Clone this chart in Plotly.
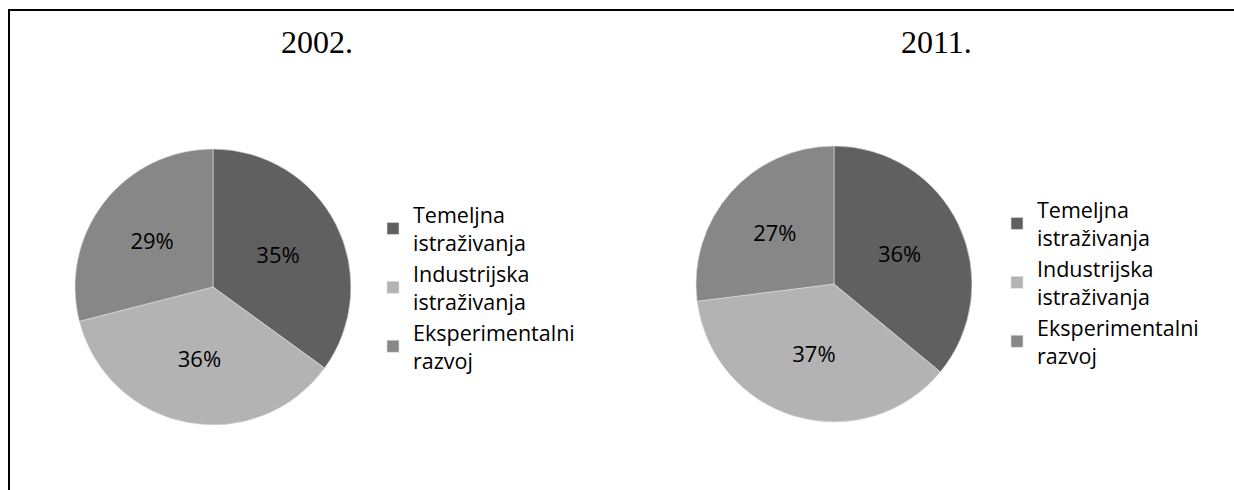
import plotly.graph_objects as go

labels = ["Temeljna<br>istraživanja", "Industrijska<br>istraživanja", "Eksperimentalni<br>razvoj"]
values_2002 = [35, 36, 29]
values_2011 = [36, 37, 27]
titles = ["2002.", "2011."]
colors = ["#606060", "#b3b3b3", "#878787"]

W, H = 1234, 490
FONT = "Open Sans"

# second legend needs distinct keys so both pies get their own legend entries
labels_2011 = [l + "\u200b" for l in labels]

fig = go.Figure()
fig.add_trace(go.Pie(
    labels=labels, values=values_2002, sort=False, direction="clockwise", rotation=0,
    marker=dict(colors=colors, line=dict(color="#e0e0e0", width=0.6)),
    texttemplate="%{percent:.0%}", textposition="inside", insidetextorientation="horizontal",
    textfont=dict(family=FONT, size=22, color="black"),
    domain=dict(x=[75 / W, 351 / W], y=[(H - 425) / H, (H - 149) / H]),
    legend="legend", hoverinfo="label+percent",
))
fig.add_trace(go.Pie(
    labels=labels_2011, values=values_2011, sort=False, direction="clockwise", rotation=0,
    marker=dict(colors=colors, line=dict(color="#e0e0e0", width=0.6)),
    texttemplate="%{percent:.0%}", textposition="inside", insidetextorientation="horizontal",
    textfont=dict(family=FONT, size=22, color="black"),
    domain=dict(x=[696 / W, 972 / W], y=[(H - 422) / H, (H - 146) / H]),
    legend="legend2", hoverinfo="label+percent",
))

legend_common = dict(font=dict(family=FONT, size=21.5, color="black"),
                     bgcolor="rgba(0,0,0,0)", xanchor="left", yanchor="top",
                     traceorder="normal", itemclick=False, itemdoubleclick=False)

fig.update_layout(
    width=W, height=H,
    margin=dict(l=0, r=0, t=0, b=0),
    paper_bgcolor="white", plot_bgcolor="white",
    showlegend=True,
    legend=dict(x=373 / W, y=(H - 194) / H, **legend_common),
    legend2=dict(x=997 / W, y=(H - 189) / H, **legend_common),
    annotations=[
        dict(text=titles[0], x=317 / W, y=(H - 62) / H, xref="paper", yref="paper",
             xanchor="center", yanchor="bottom", showarrow=False,
             font=dict(family="Liberation Serif", size=32, color="black")),
        dict(text=titles[1], x=936 / W, y=(H - 62) / H, xref="paper", yref="paper",
             xanchor="center", yanchor="bottom", showarrow=False,
             font=dict(family="Liberation Serif", size=32, color="black")),
    ],
    shapes=[
        dict(type="line", xref="paper", yref="paper", x0=8 / W, x1=1, y0=(H - 10) / H, y1=(H - 10) / H,
             line=dict(color="black", width=2)),
        dict(type="line", xref="paper", yref="paper", x0=9 / W, x1=9 / W, y0=0, y1=(H - 10) / H,
             line=dict(color="black", width=2)),
    ],
)

fig.write_html("out.html", config={"displayModeBar": False},
               post_script="document.body.style.margin='0';document.body.style.overflow='hidden';")
